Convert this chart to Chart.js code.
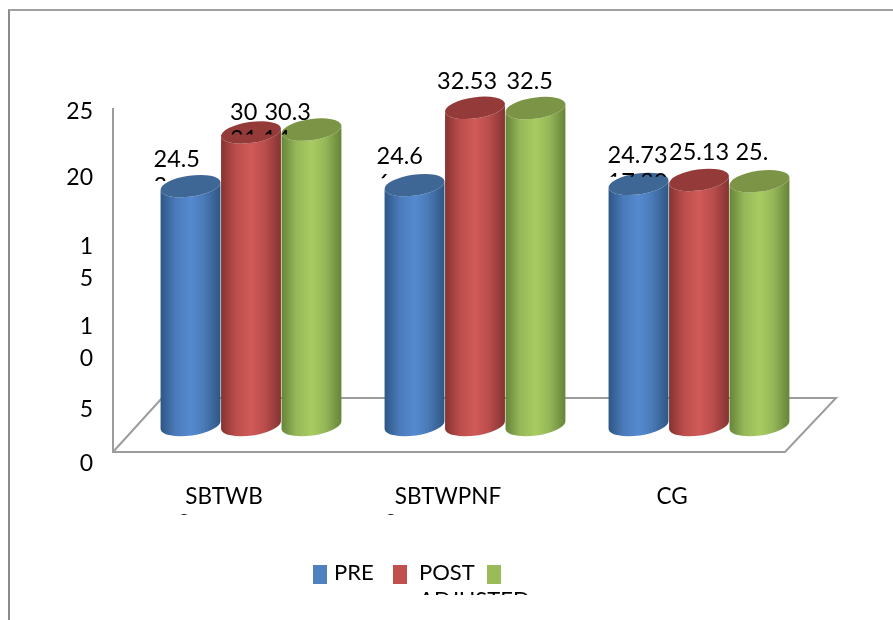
<!DOCTYPE html>
<html>
<head>
<meta charset="utf-8">
<title>PRE POST ADJUSTED</title>
<script src="https://cdn.jsdelivr.net/npm/chart.js@4"></script>
<style>
  html, body { margin: 0; padding: 0; background: #fff; overflow: hidden; }
  #frame { position: absolute; left: 8px; top: 9px; right: -4px; bottom: -4px; border-left: 2px solid #8c8c8c; border-top: 2px solid #a0a0a0; }
  #Chart { position: absolute; left: 0; top: 0; }
</style>
</head>
<body>
<div id="frame"></div>
<canvas id="Chart" width="893" height="620"></canvas>
<script>
var categories = [["SBTWB", "S"], ["SBTWPNF", "S"], "CG"];
var seriesNames = ["PRE", "POST", "ADJUSTED"];
var preValues = [24.5, 24.6, 24.73];
var postValues = [30, 32.53, 25.13];
var adjustedValues = [30.3, 32.5, 25];
var preLabels = ["24.5", "24.6", "24.73"];
var postLabels = ["30", "32.53", "25.13"];
var adjustedLabels = ["30.3", "32.5", "25."];
// second lines of the value labels, only their tops show above the cylinders
var preCutLabels = ["3", "6", "17.80"];
var postCutLabels = ["31.14", "", ""];
var adjustedCutLabels = ["", "", ""];
var yTickLabels = ["0", "5", ["1", "0"], ["1", "5"], "20", "25"];

var LABEL_FONT = "23.5px Lato";
var LEGEND_FONT = "22px Lato";

// where the y labels sit on the value scale, they are not evenly spaced
var yTickSlots = [-3.99, 1.54, 8.42, 16.62, 25.34, 32.11];

// text left/baseline relative to the top centre of each bar
var labelShift = [
  [[-37, -19], [-38, -21], [-31, -21]],
  [[-21, -12], [-38, -19], [-30, -20]],
  [[-47, -10], [-29, -19], [-24, -21]]
];

var cylinderColors = [
  { edge: "#2c5684", side: "#4a7ab8", mid: "#568ad0", cap: "#3e6796" },
  { edge: "#843331", side: "#bb4e4c", mid: "#d05a57", cap: "#943b39" },
  { edge: "#66833a", side: "#96b858", mid: "#a8cc62", cap: "#7b9445" }
];
var legendColors = ["#4f81bd", "#c0504d", "#9bbb59"];

function drawCylinder(ctx, bar, colors) {
  var rx = bar.width / 2;
  var ry = 10.5;
  var tilt = -0.14;
  var grad = ctx.createLinearGradient(bar.x - rx, 0, bar.x + rx, 0);
  grad.addColorStop(0, colors.edge);
  grad.addColorStop(0.25, colors.side);
  grad.addColorStop(0.5, colors.mid);
  grad.addColorStop(0.72, colors.side);
  grad.addColorStop(1, colors.edge);

  ctx.beginPath();
  ctx.ellipse(bar.x, bar.y, rx, ry, tilt, Math.PI, 0, true);
  ctx.ellipse(bar.x, bar.base, rx, ry, tilt, 0, Math.PI, false);
  ctx.closePath();
  ctx.fillStyle = grad;
  ctx.fill();

  ctx.beginPath();
  ctx.ellipse(bar.x, bar.y, rx, ry, tilt, 0, Math.PI * 2);
  ctx.fillStyle = colors.cap;
  ctx.fill();
}

var cylinderPlugin = {
  id: "cylinders",
  // the plain rectangles are replaced by the cylinders below
  beforeDatasetDraw: function() {
    return false;
  },
  beforeDatasetsDraw: function(chart) {
    var ctx = chart.ctx;
    var area = chart.chartArea;
    var base = chart.scales.y.getPixelForValue(0);
    ctx.save();
    ctx.strokeStyle = "#9c9c9c";
    ctx.lineWidth = 2;
    // value axis and the floor
    ctx.beginPath();
    ctx.moveTo(area.left - 26, area.top + 8);
    ctx.lineTo(area.left - 26, base + 27);
    ctx.lineTo(area.right - 26, base + 27);
    ctx.lineTo(area.right + 25, base - 27);
    ctx.lineTo(area.left + 23, base - 27);
    ctx.lineTo(area.left - 26, base + 27);
    ctx.stroke();
    ctx.restore();
  },
  afterDatasetsDraw: function(chart) {
    var ctx = chart.ctx;
    ctx.save();
    chart.data.datasets.forEach(function(ds, i) {
      chart.getDatasetMeta(i).data.forEach(function(bar) {
        drawCylinder(ctx, bar.getProps(["x", "y", "base", "width"], true), cylinderColors[i]);
      });
    });

    ctx.font = LABEL_FONT;
    ctx.fillStyle = "#000";
    ctx.textAlign = "left";
    ctx.textBaseline = "alphabetic";
    chart.data.datasets.forEach(function(ds, i) {
      chart.getDatasetMeta(i).data.forEach(function(bar, j) {
        var x = bar.x + labelShift[i][j][0];
        var y = bar.y + labelShift[i][j][1];
        ctx.fillText(ds.valueLabels[j], x, y);
        if (ds.cutLabels[j]) {
          ctx.save();
          ctx.beginPath();
          ctx.rect(x - 2, y + 9, 80, 5);
          ctx.clip();
          ctx.fillText(ds.cutLabels[j], x, y + 27);
          ctx.restore();
        }
      });
    });
    ctx.restore();
  },
  afterDraw: function(chart) {
    var ctx = chart.ctx;
    ctx.save();
    // the category text box stops just under the first line
    ctx.fillStyle = "#fff";
    ctx.fillRect(170, 515, 360, 40);

    // legend
    ctx.font = LEGEND_FONT;
    ctx.textBaseline = "alphabetic";
    ctx.textAlign = "left";
    var boxX = [313, 393, 487];
    var textX = [334, 419, 419];
    seriesNames.forEach(function(name, i) {
      ctx.fillStyle = legendColors[i];
      ctx.fillRect(boxX[i], 565, 14, 19);
      ctx.fillStyle = "#000";
      if (i == 2) {
        ctx.save();
        ctx.beginPath();
        ctx.rect(textX[i] - 2, 586, 130, 9);
        ctx.clip();
        ctx.fillText(name, textX[i], 607);
        ctx.restore();
      } else {
        ctx.fillText(name, textX[i], 580);
      }
    });
    ctx.restore();
  }
};

var chart = new Chart(document.getElementById("Chart"), {
  type: "bar",
  plugins: [cylinderPlugin],
  data: {
    labels: categories,
    datasets: [
      { label: seriesNames[0], data: preValues, backgroundColor: legendColors[0], valueLabels: preLabels, cutLabels: preCutLabels },
      { label: seriesNames[1], data: postValues, backgroundColor: legendColors[1], valueLabels: postLabels, cutLabels: postCutLabels },
      { label: seriesNames[2], data: adjustedValues, backgroundColor: legendColors[2], valueLabels: adjustedLabels, cutLabels: adjustedCutLabels }
    ]
  },
  options: {
    responsive: false,
    animation: false,
    events: [],
    categoryPercentage: 0.81,
    barPercentage: 1,
    layout: { padding: { top: 100, right: 82, left: 0, bottom: 0 } },
    plugins: {
      legend: { display: false },
      title: { display: false },
      tooltip: { enabled: false }
    },
    scales: {
      x: {
        grid: { display: false },
        border: { display: false },
        afterFit: function(scale) { scale.height = 150; },
        ticks: {
          color: "#000",
          font: { family: "Lato", size: 22.5, lineHeight: 1.2 },
          padding: 5,
          labelOffset: -27,
          maxRotation: 0,
          autoSkip: false,
          // wrapped names start at the left of the first line
          callback: function(value, index) {
            var name = categories[index];
            if (Array.isArray(name)) {
              return [name[0], name[1].padEnd(name[0].length * 3)];
            }
            return name;
          }
        }
      },
      y: {
        min: -4.615,
        max: 33.33,
        grid: { display: false },
        border: { display: false },
        afterFit: function(scale) { scale.width = 139; },
        afterBuildTicks: function(scale) {
          scale.ticks = yTickSlots.map(function(v) { return { value: v }; });
        },
        ticks: {
          color: "#000",
          font: { family: "Lato", size: 23, lineHeight: 1.4 },
          padding: 38,
          autoSkip: false,
          callback: function(value, index) {
            return yTickLabels[index];
          }
        }
      }
    }
  }
});
</script>
</body>
</html>
